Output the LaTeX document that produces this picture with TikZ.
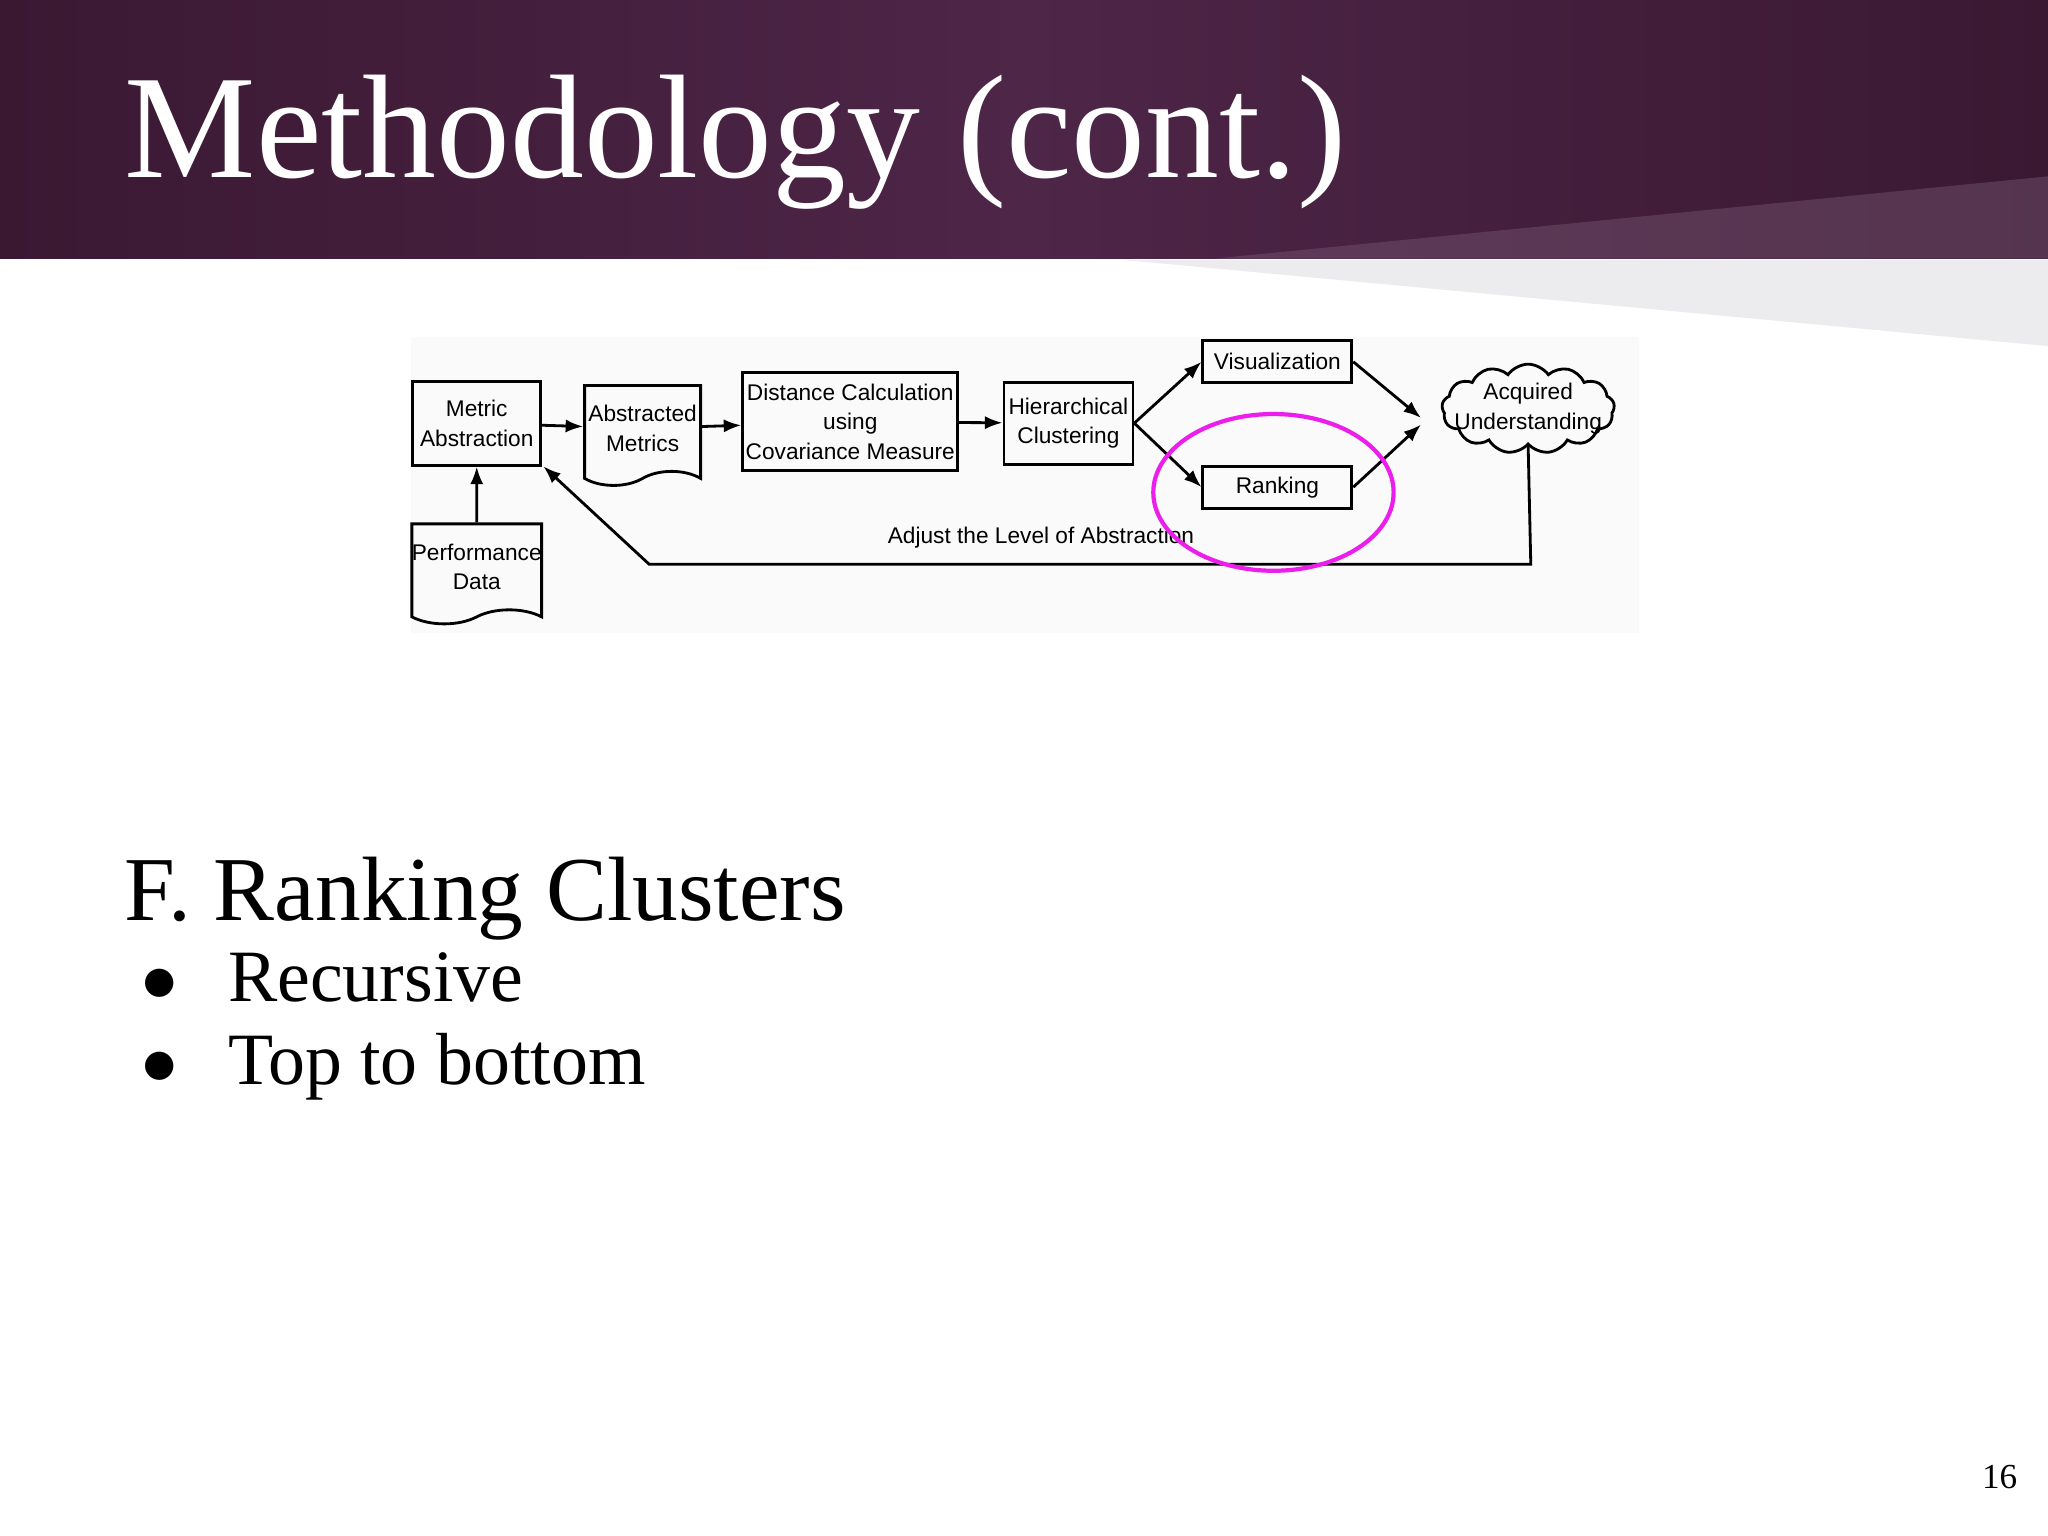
\documentclass[tikz,border=0pt]{standalone}
\usepackage{fontspec}
\setmainfont{Liberation Serif}
\newfontfamily\diagfont{Liberation Sans}[Scale=0.86]
\usetikzlibrary{shapes.symbols,arrows.meta}
\definecolor{bandtop}{RGB}{58,24,50}
\definecolor{bandmid}{RGB}{78,38,72}
\definecolor{stripgray}{RGB}{236,236,238}
\definecolor{ringpink}{RGB}{236,30,236}
\tikzset{
  stage/.style={draw, thick, shape=rectangle, inner sep=0pt, align=center, font=\diagfont\fontsize{7.5}{8.5}\selectfont},
  doc/.style={stage, shape=tape, tape bend top=none, tape bend height=4pt},
  flow/.style={thick, -{Latex[length=5pt]}}
}
\begin{document}
\begin{tikzpicture}[x=0.01306cm, y=-0.01306cm]
		% Paths, nodes and wires:
		\useasboundingbox (0, 0) rectangle (1568, 1176);
		\fill[left color=bandtop, right color=bandtop, middle color=bandmid] (0, 0) rectangle (1568, 198);
		\fill[bandmid!80!white, opacity=0.5] (930, 198) -- (1568, 135) -- (1568, 198) -- cycle;
		\fill[stripgray] (860, 199) -- (1568, 199) -- (1568, 265) -- cycle;
		\node[anchor=base west, text=white, font=\fontsize{42}{46}\selectfont, inner sep=0] (title) at (95, 136){Methodology (cont.)};
		\fill[black!2] (315, 258) rectangle (1255, 485);
		\node[stage, minimum width=1.28cm, minimum height=0.84cm] (metric) at (365, 324){Metric\\Abstraction};
		\node[doc, minimum width=1.16cm, minimum height=1.0cm] (abstracted) at (492, 328){Abstracted\\Metrics};
		\node[stage, minimum width=2.15cm, minimum height=0.98cm] (distance) at (651, 323){Distance Calculation\\using\\Covariance Measure};
		\node[stage, minimum width=1.29cm, minimum height=0.82cm] (hier) at (818, 324){Hierarchical\\Clustering};
		\node[stage, minimum width=1.49cm, minimum height=0.42cm] (visual) at (978, 277){Visualization};
		\node[stage, minimum width=1.49cm, minimum height=0.42cm] (ranking) at (978, 373){Ranking};
		\node[stage, shape=cloud, cloud puffs=13, cloud puff arc=110, aspect=2.4, inner sep=-4pt] (acquired) at (1170, 313){Acquired\\Understanding};
		\node[doc, minimum width=1.29cm, minimum height=1.0cm] (perf) at (365, 434){Performance\\Data};
		\coordinate (low) at (1172, 432);
		\coordinate (bend) at (497, 432);
		\coordinate (gap) at (416, 357);
		\draw[flow] (metric) -- (abstracted);
		\draw[flow] (abstracted) -- (distance);
		\draw[flow] (distance) -- (hier);
		\draw[flow] (hier.east) -- (visual.west);
		\draw[flow] (hier.east) -- (ranking.west);
		\draw[flow] (visual.east) -- (1088, 320);
		\draw[flow] (ranking.east) -- (1088, 325);
		\draw[flow] (perf) -- (metric);
		\draw[flow] (acquired.south) -- (low) -- (bend) -- (gap);
		\node[font=\diagfont\fontsize{7.5}{8.5}\selectfont, anchor=south] (adjust) at (797, 429){Adjust the Level of Abstraction};
		\draw[ringpink, very thick] (975, 377) ellipse [x radius=92, y radius=60];
		\node[anchor=base west, font=\fontsize{26}{30}\selectfont, inner sep=0] (heading) at (95, 705){F. Ranking Clusters};
		\node[anchor=base west, font=\fontsize{21}{25}\selectfont, inner sep=0] (itemone) at (108, 767){$\bullet$\hspace{0.5cm}Recursive};
		\node[anchor=base west, font=\fontsize{21}{25}\selectfont, inner sep=0] (itemtwo) at (108, 830){$\bullet$\hspace{0.5cm}Top to bottom};
		\node[anchor=base east, font=\fontsize{10}{12}\selectfont, inner sep=0] (page) at (1545, 1140){16};
	\end{tikzpicture}
\end{document}
